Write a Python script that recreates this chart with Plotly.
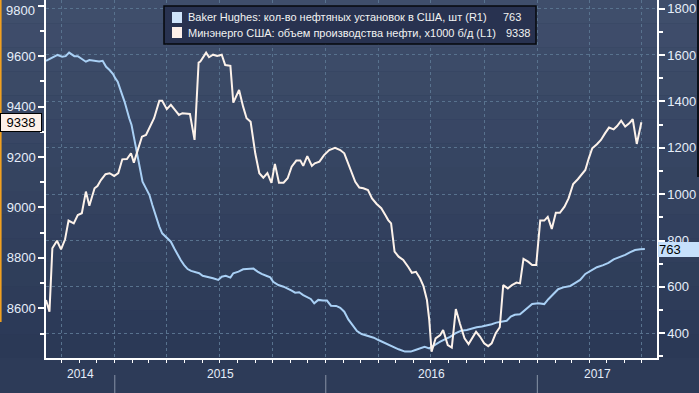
import plotly.graph_objects as go
import pandas as pd

# ---------------- data ----------------
rig_dates = ["2014-09-04","2014-09-24","2014-10-02","2014-10-08","2014-10-14","2014-10-23","2014-10-29",
    "2014-11-05","2014-11-12","2014-11-18","2014-11-27","2014-12-05","2014-12-11","2014-12-17","2014-12-23",
    "2014-12-29","2015-01-02","2015-01-06","2015-01-12","2015-01-18","2015-01-26","2015-01-30","2015-02-03",
    "2015-02-09","2015-02-15","2015-02-18","2015-02-24","2015-03-02","2015-03-07","2015-03-13","2015-03-19",
    "2015-03-24","2015-04-02","2015-04-08","2015-04-14","2015-04-19","2015-04-25","2015-05-01","2015-05-07",
    "2015-05-13","2015-05-22","2015-05-27","2015-06-02","2015-06-07","2015-06-20","2015-06-29","2015-07-05",
    "2015-07-12","2015-07-20","2015-07-25","2015-08-03","2015-08-11","2015-08-20","2015-08-29","2015-09-05",
    "2015-09-12","2015-09-21","2015-09-27","2015-10-02","2015-10-11","2015-10-20","2015-10-27","2015-11-03",
    "2015-11-09","2015-11-16","2015-11-23","2015-11-29","2015-12-06","2015-12-12","2015-12-19","2015-12-27",
    "2016-01-03","2016-01-10","2016-01-19","2016-01-26","2016-02-02","2016-02-09","2016-02-17","2016-02-24",
    "2016-03-03","2016-03-15","2016-03-24","2016-04-01","2016-04-13","2016-04-25","2016-05-06","2016-05-17",
    "2016-05-27","2016-06-04","2016-06-12","2016-06-20","2016-06-28","2016-07-07","2016-07-17","2016-07-25",
    "2016-08-03","2016-08-12","2016-08-22","2016-09-01","2016-09-10","2016-09-18","2016-09-27","2016-10-05",
    "2016-10-14","2016-10-22","2016-10-31","2016-11-09","2016-11-16","2016-11-23","2016-12-02","2016-12-11",
    "2016-12-23","2017-01-03","2017-01-13","2017-01-20","2017-01-29","2017-02-06","2017-02-15","2017-02-27",
    "2017-03-07","2017-03-16","2017-03-25","2017-04-05","2017-04-14","2017-04-25","2017-05-04","2017-05-13",
    "2017-05-24","2017-06-02","2017-06-10","2017-06-19","2017-06-28","2017-07-06"]
rig_values = [1575,1600,1592,1595,1610,1595,1595,
    1581,1571,1578,1575,1572,1575,1549,1535,
    1518,1499,1485,1441,1398,1327,1298,1247,
    1176,1090,1054,1025,996,953,903,860,
    831,810,795,766,742,716,694,677,
    669,664,659,648,644,637,630,644,
    648,640,659,666,676,676,679,666,
    656,647,641,622,608,601,594,584,
    575,577,565,558,548,529,544,541,
    541,519,518,510,493,460,431,410,
    397,388,381,371,357,345,331,321,
    321,328,335,342,335,350,364,374,
    385,400,411,414,422,426,429,433,
    439,446,450,454,472,480,482,500,
    526,529,526,547,568,590,598,604,
    616,630,656,670,685,694,704,719,
    728,738,749,759,762,763]

prod_dates = ["2014-09-04","2014-09-07","2014-09-10","2014-09-15","2014-09-23","2014-09-30","2014-10-07",
    "2014-10-13","2014-10-22","2014-10-29","2014-11-05","2014-11-12","2014-11-18","2014-11-27","2014-12-02",
    "2014-12-08","2014-12-16","2014-12-23","2014-12-31","2015-01-07","2015-01-14","2015-01-22","2015-01-29",
    "2015-02-03","2015-02-09","2015-02-17","2015-02-24","2015-03-03","2015-03-10","2015-03-19","2015-03-24",
    "2015-04-01","2015-04-08","2015-04-15","2015-04-22","2015-04-28","2015-05-04","2015-05-11","2015-05-19",
    "2015-05-26","2015-05-29","2015-06-08","2015-06-13","2015-06-20","2015-06-27","2015-07-05","2015-07-11",
    "2015-07-20","2015-07-25","2015-08-04","2015-08-11","2015-08-17","2015-08-24","2015-09-01","2015-09-08",
    "2015-09-15","2015-09-22","2015-09-29","2015-10-05","2015-10-12","2015-10-20","2015-10-27","2015-11-03",
    "2015-11-11","2015-11-18","2015-11-23","2015-11-30","2015-12-08","2015-12-13","2015-12-21","2015-12-29",
    "2016-01-07","2016-01-17","2016-01-26","2016-02-02","2016-02-09","2016-02-15","2016-02-21","2016-02-28",
    "2016-03-06","2016-03-14","2016-03-21","2016-03-29","2016-04-06","2016-04-13","2016-04-18","2016-04-23",
    "2016-04-29","2016-05-06","2016-05-14","2016-05-23","2016-05-29","2016-06-05","2016-06-12","2016-06-18",
    "2016-06-24","2016-06-28","2016-07-02","2016-07-09","2016-07-17","2016-07-22","2016-07-30","2016-08-06",
    "2016-08-13","2016-08-20","2016-08-28","2016-09-04","2016-09-11","2016-09-17","2016-09-24","2016-10-01",
    "2016-10-08","2016-10-14","2016-10-21","2016-10-28","2016-11-03","2016-11-11","2016-11-18","2016-11-23",
    "2016-11-26","2016-12-02","2016-12-08","2016-12-16","2016-12-23","2016-12-30","2017-01-06","2017-01-13",
    "2017-01-19","2017-01-26","2017-02-02","2017-02-09","2017-02-17","2017-02-24","2017-03-04","2017-03-12",
    "2017-03-19","2017-03-25","2017-03-31","2017-04-06","2017-04-14","2017-04-21","2017-04-28","2017-05-05",
    "2017-05-13","2017-05-19","2017-05-26","2017-06-02","2017-06-09","2017-06-15","2017-06-22","2017-06-30"]
prod_values = [8633,8606,8587,8838,8868,8834,8874,
    8948,8937,8970,8977,9063,9007,9076,9085,
    9109,9132,9136,9125,9136,9191,9192,9215,
    9178,9221,9281,9288,9318,9354,9423,9423,
    9390,9407,9387,9367,9374,9374,9371,9268,
    9575,9579,9614,9596,9606,9601,9606,9565,
    9562,9416,9466,9400,9354,9340,9215,9136,
    9118,9136,9098,9173,9098,9098,9116,9162,
    9186,9186,9165,9204,9165,9175,9182,9208,
    9228,9237,9228,9215,9175,9136,9102,9079,
    9076,9069,9036,9014,8997,8970,8950,8937,
    8825,8805,8792,8763,8741,8745,8719,8688,
    8633,8554,8428,8481,8494,8514,8454,8444,
    8597,8540,8481,8458,8487,8507,8487,8461,
    8450,8461,8501,8525,8692,8679,8692,8699,
    8702,8699,8796,8785,8772,8772,8948,8948,
    8963,8915,8979,8979,9003,9036,9093,9112,
    9132,9149,9195,9235,9251,9268,9294,9317,
    9310,9323,9344,9321,9334,9350,9252,9338]

rig_name = "Baker Hughes: кол-во нефтяных установок в США, шт (R1)"
prod_name = "Минэнерго США: объем производства нефти, x1000 б/д (L1)"
year_labels = ["2014", "2015", "2016", "2017"]
left_ticks = [8600, 8800, 9000, 9200, 9400, 9600, 9800]
right_ticks = [400, 600, 800, 1000, 1200, 1400, 1600, 1800]
x_start, x_end = "2014-09-04", "2017-07-27"

# ---------------- layout helpers ----------------
W, H = 699, 393
ML, MR, MT, MB = 46, 42, 0, 35
PW = W - ML - MR
PH = H - MT - MB

def px(x):
    return (x - ML) / PW

def py(y):
    return (H - MB - y) / PH

RIG_COLOR = "#a9d0f5"
PROD_COLOR = "#fdf2ea"
TXT = "#e6eefa"
FONT = "Liberation Sans, Arial, sans-serif"

fig = go.Figure()
fig.add_trace(go.Scatter(x=rig_dates, y=rig_values, mode="lines", name=rig_name,
                         line=dict(color=RIG_COLOR, width=2), yaxis="y"))
fig.add_trace(go.Scatter(x=prod_dates, y=prod_values, mode="lines", name=prod_name,
                         line=dict(color=PROD_COLOR, width=2), yaxis="y2"))

shapes = []
# background gradient bands
top_c = (63, 78, 107)
bot_c = (43, 57, 86)
nb = 15
for i in range(nb):
    y0 = i * PH / nb
    y1 = (i + 1) * PH / nb
    t = i / (nb - 1)
    c = tuple(int(round(top_c[k] + (bot_c[k] - top_c[k]) * t)) for k in range(3))
    shapes.append(dict(type="rect", xref="paper", yref="paper", x0=px(0), x1=px(W),
                       y0=py(y1), y1=py(y0), fillcolor="rgb(%d,%d,%d)" % c,
                       line=dict(width=0), layer="below"))
shapes.append(dict(type="rect", xref="paper", yref="paper", x0=px(0), x1=px(W),
                   y0=py(H), y1=py(PH), fillcolor="rgb(45,59,88)", line=dict(width=0), layer="below"))
# orange edge and dark edge
shapes.append(dict(type="line", xref="paper", yref="paper", x0=px(0.8), x1=px(0.8),
                   y0=py(0), y1=py(322), line=dict(color="#f0a020", width=1.6)))
shapes.append(dict(type="rect", xref="paper", yref="paper", x0=px(697), x1=px(699),
                   y0=py(177), y1=py(0), fillcolor="#0b0f18", line=dict(width=0)))

# year separators and labels
start = pd.Timestamp(x_start)
end = pd.Timestamp(x_end)
annotations = []
for yl in year_labels:
    ys = pd.Timestamp(yl + "-01-01")
    ye = pd.Timestamp(str(int(yl) + 1) + "-01-01")
    a = max(ys, start)
    b = min(ye, end)
    mid = a + (b - a) / 2
    annotations.append(dict(x=mid, y=py(383), xref="x", yref="paper", text=yl,
                            showarrow=False, font=dict(family=FONT, size=12, color=TXT)))
    if ys > start:
        shapes.append(dict(type="line", xref="x", yref="paper", x0=ys, x1=ys,
                           y0=py(375), y1=py(393), line=dict(color="#8793a6", width=1)))

# top left tick label is nudged down inside the view (as in the original terminal chart)
left_ticktext = [str(v) for v in left_ticks]
left_ticktext[-1] = ""
annotations.append(dict(x=px(37), y=py(10.5), xref="paper", yref="paper", text=str(left_ticks[-1]),
                        xanchor="right", yanchor="middle", showarrow=False,
                        font=dict(family=FONT, size=13, color=TXT)))

# legend box
shapes.append(dict(type="rect", xref="paper", yref="paper", x0=px(164), x1=px(536),
                   y0=py(44), y1=py(6), fillcolor="#283250", line=dict(color="#06080d", width=1.5)))
shapes.append(dict(type="rect", xref="paper", yref="paper", x0=px(172), x1=px(182),
                   y0=py(23), y1=py(12), fillcolor="#cfe4fb", line=dict(width=0)))
shapes.append(dict(type="rect", xref="paper", yref="paper", x0=px(172), x1=px(182),
                   y0=py(38), y1=py(27), fillcolor="#fdf0ea", line=dict(width=0)))
annotations.append(dict(x=px(186), y=py(17.5), xref="paper", yref="paper", text=rig_name,
                        xanchor="left", yanchor="middle", showarrow=False,
                        font=dict(family=FONT, size=11, color="#f2f2f2")))
annotations.append(dict(x=px(186), y=py(32.5), xref="paper", yref="paper", text=prod_name,
                        xanchor="left", yanchor="middle", showarrow=False,
                        font=dict(family=FONT, size=11, color="#f2f2f2")))
annotations.append(dict(x=px(501), y=py(17.5), xref="paper", yref="paper", text=str(rig_values[-1]),
                        xanchor="left", yanchor="middle", showarrow=False,
                        font=dict(family=FONT, size=11, color="#f2f2f2")))
annotations.append(dict(x=px(504), y=py(32.5), xref="paper", yref="paper", text=str(prod_values[-1]),
                        xanchor="left", yanchor="middle", showarrow=False,
                        font=dict(family=FONT, size=11, color="#f2f2f2")))

# last-value tags
annotations.append(dict(x=px(0), y=prod_values[-1], xref="paper", yref="y2", text=str(prod_values[-1]),
                        xanchor="left", yanchor="middle", showarrow=False, width=38, height=15,
                        bgcolor="#fdf0e8", bordercolor="#000000", borderwidth=1, align="center",
                        font=dict(family=FONT, size=13, color="#000000")))
annotations.append(dict(x=px(658), y=rig_values[-1], xref="paper", yref="y", text=str(rig_values[-1]),
                        xanchor="left", yanchor="middle", showarrow=False, width=40, height=13,
                        bgcolor="#c6e0fb", borderwidth=0, align="left",
                        font=dict(family=FONT, size=13, color="#000000")))

axis_common = dict(showline=True, linecolor="white", linewidth=1.5, ticks="outside",
                   ticklen=6, tickwidth=2, tickcolor="white", fixedrange=True,
                   ticklabeloverflow="allow", automargin=False, tickformat="d",
                   tickfont=dict(family=FONT, size=13, color=TXT), zeroline=False)

fig.update_layout(
    width=W, height=H,
    margin=dict(l=ML, r=MR, t=MT, b=MB, pad=0, autoexpand=False),
    paper_bgcolor="rgb(45,59,88)", plot_bgcolor="rgba(0,0,0,0)",
    showlegend=False,
    xaxis=dict(type="date", range=[x_start, x_end], showticklabels=False,
               showline=True, linecolor="white", linewidth=1.5, automargin=False,
               tick0="2014-01-01", dtick="M3", ticks="outside", ticklen=3, tickcolor="white",
               showgrid=True, gridcolor="#58728e", griddash="3px,3px", gridwidth=1,
               minor=dict(dtick="M1", ticks="outside", ticklen=3, tickcolor="white", showgrid=False),
               zeroline=False, fixedrange=True),
    yaxis=dict(side="right", range=[293.5, 1837], tickvals=right_ticks,
               showgrid=True, gridcolor="#58728e", griddash="3px,3px", gridwidth=1,
               minor=dict(dtick=100, ticks="outside", ticklen=4, tickcolor="white", showgrid=False),
               **axis_common),
    yaxis2=dict(side="left", overlaying="y", range=[8403, 9823], tickvals=left_ticks,
                ticktext=left_ticktext, showgrid=False,
                minor=dict(dtick=100, ticks="outside", ticklen=4, tickcolor="white", showgrid=False),
                **axis_common),
    shapes=shapes,
    annotations=annotations,
)

fig.write_html("out.html", config={"displayModeBar": False},
               post_script="document.body.style.margin='0';document.body.style.padding='0';")
